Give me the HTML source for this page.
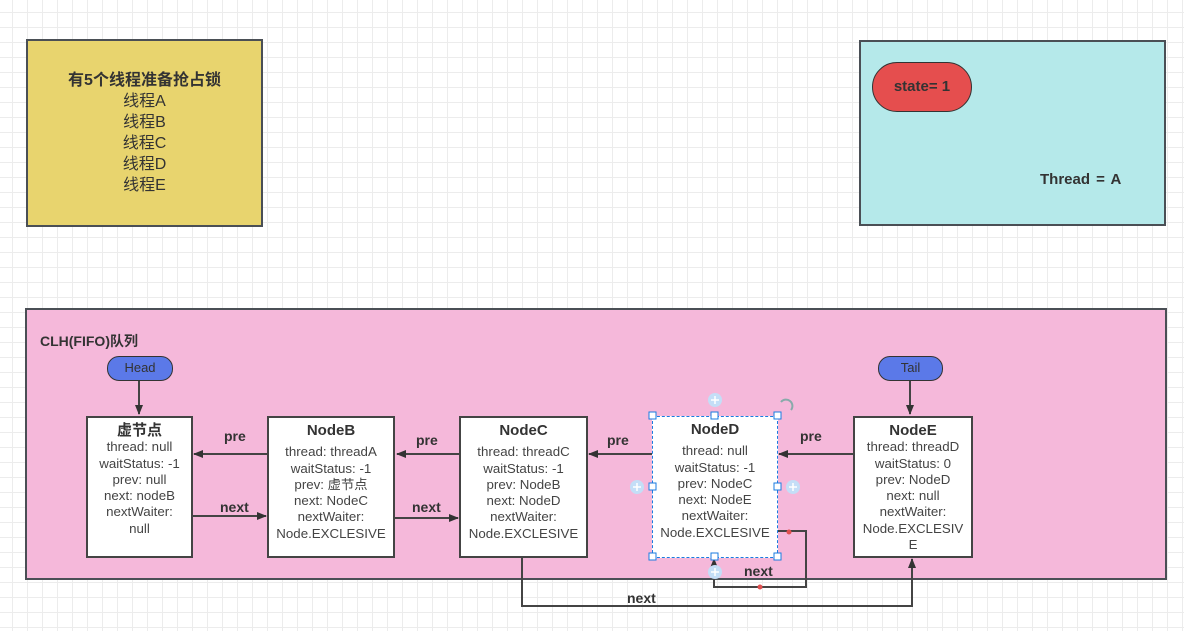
<!DOCTYPE html>
<html><head><meta charset="utf-8"><style>
*{margin:0;padding:0;box-sizing:border-box}
body{width:1184px;height:631px;overflow:hidden;position:relative;background-color:#fff;
background-image:linear-gradient(#ececec 1px,transparent 1px),linear-gradient(90deg,#ececec 1px,transparent 1px);
background-size:15px 15px;background-position:12px 12px;
font-family:"Liberation Sans","Noto Sans CJK SC",sans-serif;color:#333}
.a{position:absolute}
.box{position:absolute;border:2px solid #4a4f55}
.node{position:absolute;background:#fff;border:2px solid #444;text-align:center;font-size:13.3px;line-height:16.3px;color:#444}
.node b{font-size:15px;color:#333;display:block}
.lbl{position:absolute;font-weight:bold;font-size:14px;color:#333}
.pill{position:absolute;background:#5b79e8;border:1.5px solid #333;border-radius:12px;text-align:center;font-size:13px;line-height:21px;color:#333}
</style></head><body>
<div class="box" style="left:26px;top:39px;width:237px;height:188px;background:#e8d46e"></div>
<div class="a" style="left:26px;top:70px;width:237px;text-align:center;font-size:16px;line-height:21px;color:#333"><b>有5个线程准备抢占锁</b><br>线程A<br>线程B<br>线程C<br>线程D<br>线程E</div>
<div class="box" style="left:859px;top:40px;width:307px;height:186px;background:#b5e9ea"></div>
<div class="a" style="left:872px;top:62px;width:100px;height:50px;background:#e54e4e;border:1.5px solid #333;border-radius:25px;text-align:center;line-height:47px;font-weight:bold;font-size:15px">state= 1</div>
<div class="lbl" style="left:1040px;top:171px;font-size:15px;word-spacing:2px">Thread = A</div>
<div class="box" style="left:25px;top:308px;width:1142px;height:272px;background:#f5b8da"></div>
<div class="lbl" style="left:40px;top:331px">CLH(FIFO)队列</div>
<div class="pill" style="left:107px;top:356px;width:66px;height:25px">Head</div>
<div class="pill" style="left:878px;top:356px;width:65px;height:25px">Tail</div>
<svg class="a" style="left:0;top:0" width="1184" height="631">
<defs><marker id="m" markerWidth="10" markerHeight="10" refX="9" refY="5" orient="auto" markerUnits="userSpaceOnUse"><path d="M0,1 L10,5 L0,9 Z" fill="#333"/></marker></defs>
<g stroke="#444" stroke-width="2" fill="none">
<path d="M139,381 V414" marker-end="url(#m)"/>
<path d="M910,381 V414" marker-end="url(#m)"/>
<path d="M268,454 H194" marker-end="url(#m)"/>
<path d="M460,454 H397" marker-end="url(#m)"/>
<path d="M653,454 H589" marker-end="url(#m)"/>
<path d="M854,454 H779" marker-end="url(#m)"/>
<path d="M192,516 H266" marker-end="url(#m)"/>
<path d="M395,518 H458" marker-end="url(#m)"/>
<path d="M522,557 V606 H912 V559" marker-end="url(#m)"/>
<path d="M777,531 H806 V587 H714 V559" marker-end="url(#m)"/>
</g>
<circle cx="789" cy="532" r="2.5" fill="#e05050"/><circle cx="760" cy="587" r="2.5" fill="#e05050"/>
</svg>
<div class="lbl" style="left:224px;top:428px">pre</div>
<div class="lbl" style="left:416px;top:432px">pre</div>
<div class="lbl" style="left:607px;top:432px">pre</div>
<div class="lbl" style="left:800px;top:428px">pre</div>
<div class="lbl" style="left:220px;top:499px">next</div>
<div class="lbl" style="left:412px;top:499px">next</div>
<div class="lbl" style="left:744px;top:563px">next</div>
<div class="lbl" style="left:627px;top:590px">next</div>
<div class="node" style="left:86px;top:416px;width:107px;height:142px;padding-top:5px"><b>虚节点</b>thread: null<br>waitStatus: -1<br>prev: null<br>next: nodeB<br>nextWaiter:<br>null</div>
<div class="node" style="left:267px;top:416px;width:128px;height:142px;padding-top:5px"><b style="margin-bottom:5px">NodeB</b>thread: threadA<br>waitStatus: -1<br>prev: 虚节点<br>next: NodeC<br>nextWaiter:<br>Node.EXCLESIVE</div>
<div class="node" style="left:459px;top:416px;width:129px;height:142px;padding-top:5px"><b style="margin-bottom:5px">NodeC</b>thread: threadC<br>waitStatus: -1<br>prev: NodeB<br>next: NodeD<br>nextWaiter:<br>Node.EXCLESIVE</div>
<div class="node" style="left:652px;top:416px;width:126px;height:142px;padding-top:5px;border:1.5px dashed #1a7be0"><b style="margin-bottom:5px">NodeD</b>thread: null<br>waitStatus: -1<br>prev: NodeC<br>next: NodeE<br>nextWaiter:<br>Node.EXCLESIVE</div>
<div class="node" style="left:853px;top:416px;width:120px;height:142px;padding-top:5px"><b>NodeE</b>thread: threadD<br>waitStatus: 0<br>prev: NodeD<br>next: null<br>nextWaiter:<br>Node.EXCLESIV<br>E</div>
<svg class="a" style="left:0;top:0" width="1184" height="631">
<g fill="#fff" stroke="#1a7be0" stroke-width="1">
<rect x="649" y="412" width="7" height="7"/><rect x="711" y="412" width="7" height="7"/><rect x="774" y="412" width="7" height="7"/>
<rect x="649" y="483" width="7" height="7"/><rect x="774" y="483" width="7" height="7"/>
<rect x="649" y="553" width="7" height="7"/><rect x="711" y="553" width="7" height="7"/><rect x="774" y="553" width="7" height="7"/>
</g>
<g fill="#c4def7"><circle cx="715" cy="400" r="7"/><circle cx="637" cy="487" r="7"/><circle cx="793" cy="487" r="7"/><circle cx="715" cy="572" r="7"/></g>
<g stroke="#fff" stroke-width="1.5"><path d="M711,400h8M715,396v8M633,487h8M637,483v8M789,487h8M793,483v8M711,572h8M715,568v8"/></g>
<path d="M781,402 A6,6 0 1 1 791,410" stroke="#8aa" stroke-width="2" fill="none"/>
</svg>
</body></html>
